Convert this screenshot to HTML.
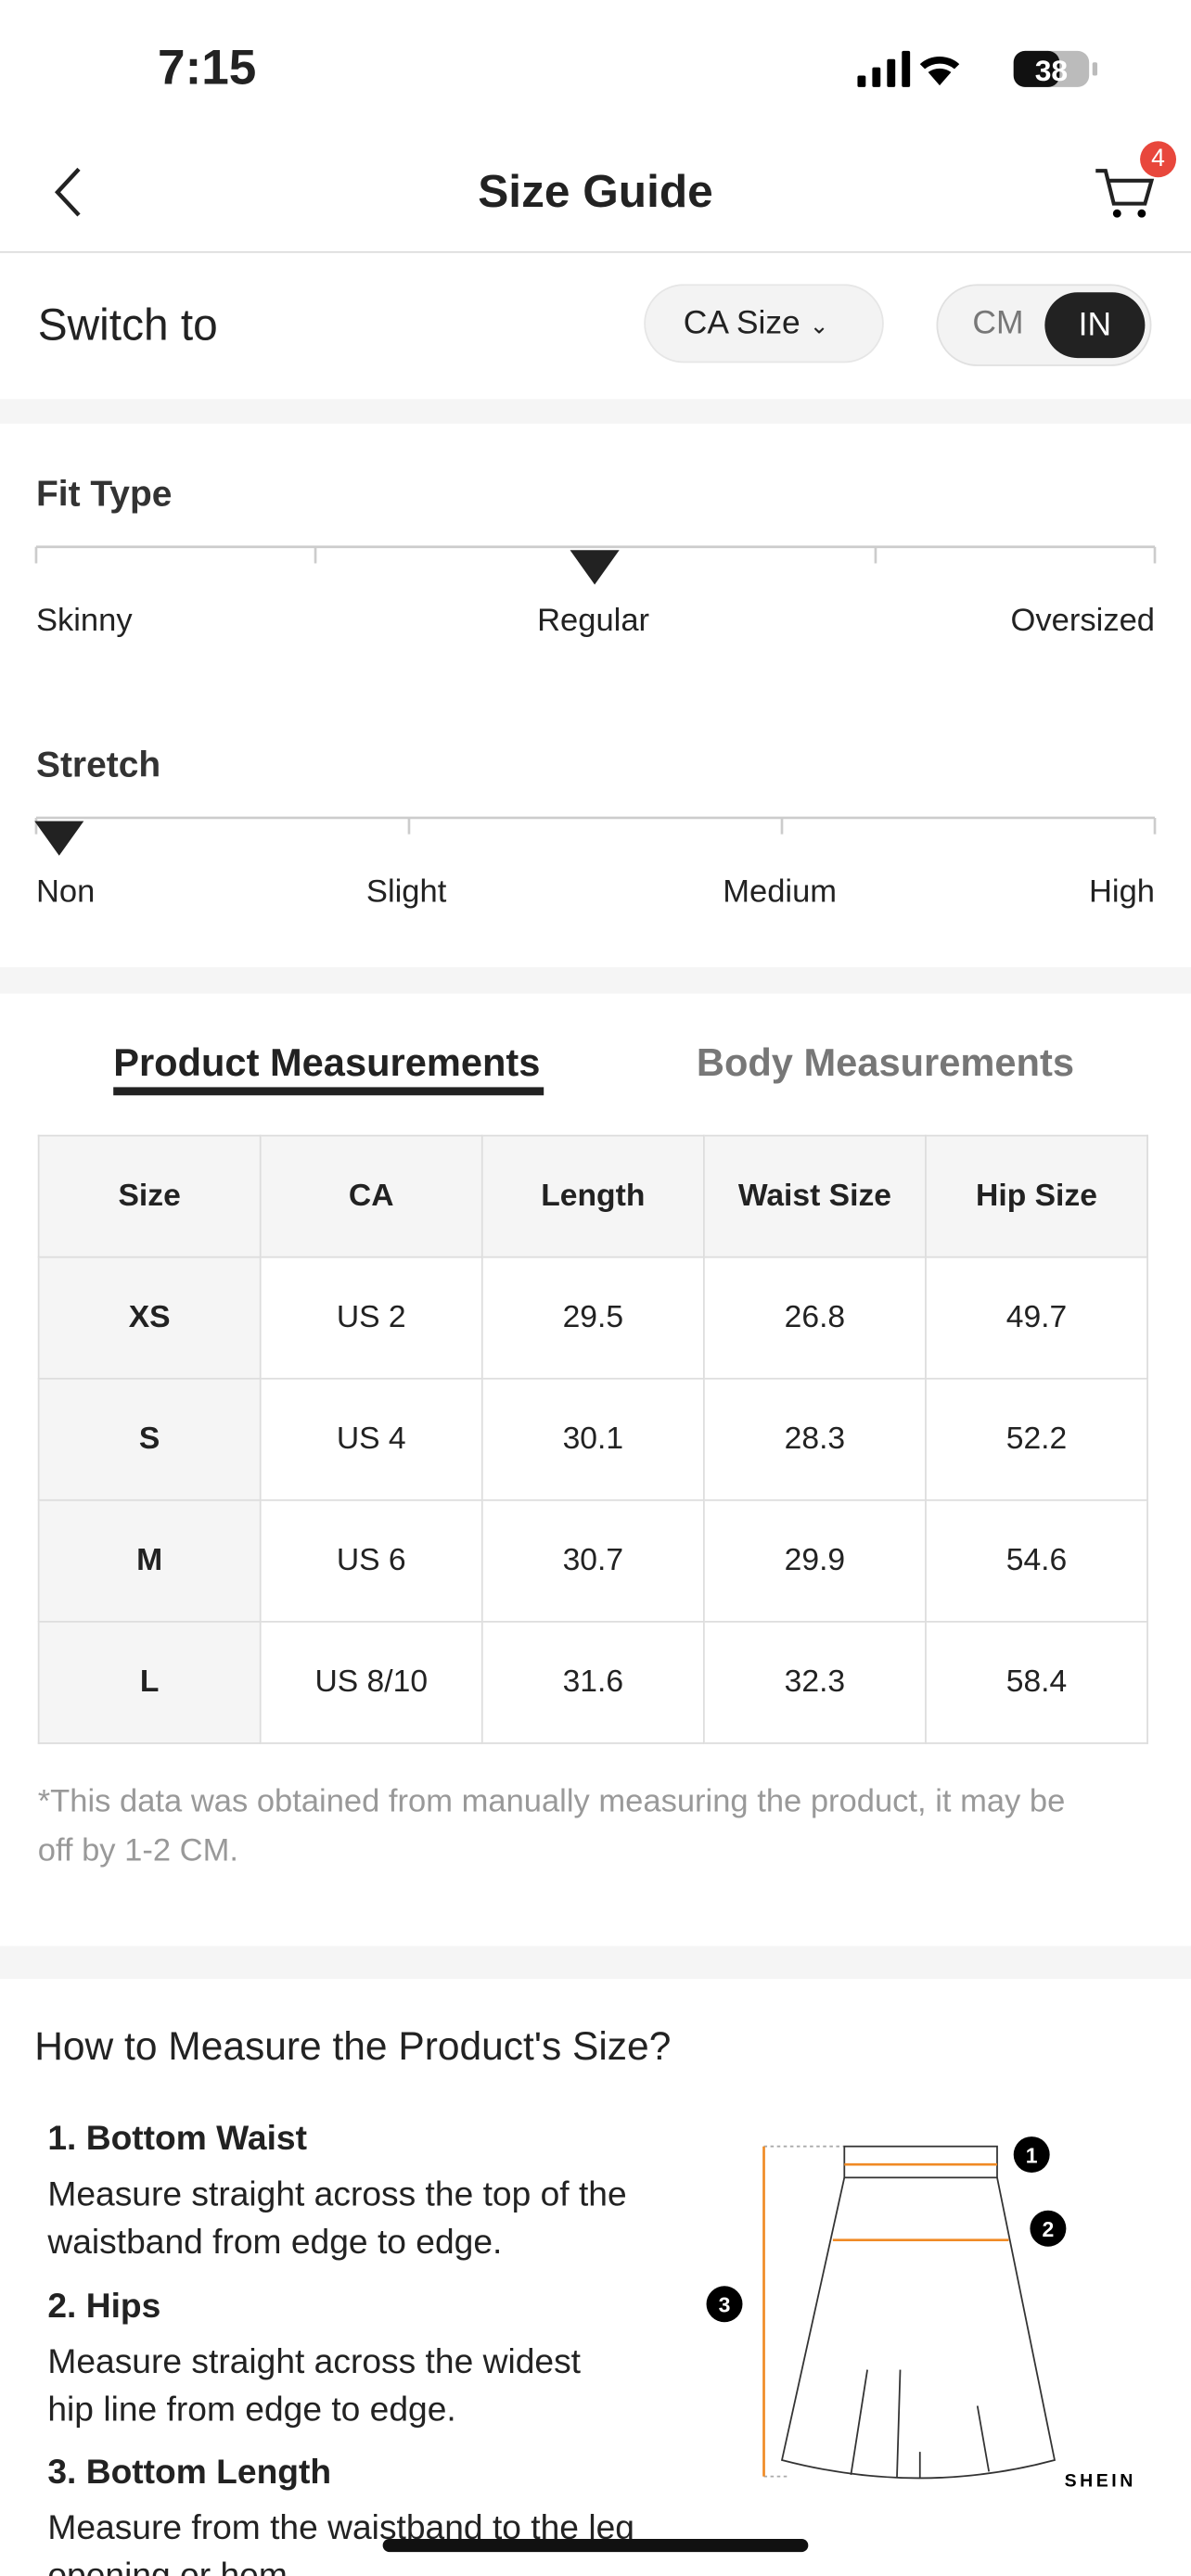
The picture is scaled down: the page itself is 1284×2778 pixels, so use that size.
<!DOCTYPE html>
<html><head><meta charset="utf-8"><style>
html,body{margin:0;padding:0;background:#fff;overflow:hidden}
#w{width:725px;height:1569px;position:relative;transform:scale(1.7710);transform-origin:0 0;font-family:"Liberation Sans",sans-serif;color:#222}
.a{position:absolute;white-space:nowrap}
.band{position:absolute;left:0;width:725px;background:#f5f5f5}
table{position:absolute;left:23px;top:691px;border-collapse:collapse}
td{width:134px;height:73px;border:1.5px solid #ddd;text-align:center;font-size:19px;color:#222;padding:0}
tr:first-child td{background:#f5f5f5;font-weight:bold}
td:first-child{background:#f5f5f5;font-weight:bold}
</style></head><body><div id="w">
<div class="a" style="left:96px;top:25px;font-size:30px;font-weight:bold">7:15</div>
<svg class="a" style="left:520px;top:28px" width="155" height="30">
<rect x="2" y="18" width="5" height="7" rx="1"/><rect x="11" y="13" width="5" height="12" rx="1"/><rect x="20" y="8" width="5" height="17" rx="1"/><rect x="29" y="3" width="5" height="22" rx="1"/>
<path d="M52 24 L45 16 A12 12 0 0 1 59 16Z M40 11 A18 18 0 0 1 64 11 L61 14 A14 14 0 0 0 43 14Z" fill="#000"/>
<rect x="97" y="3" width="46" height="22" rx="7" fill="#bbb"/><rect x="97" y="3" width="28" height="22" rx="7" fill="#111"/><rect x="145" y="10" width="3" height="8" rx="1" fill="#bbb"/>
<text x="120" y="21" font-size="18" font-weight="bold" fill="#fff" text-anchor="middle" font-family="Liberation Sans">38</text></svg>
<svg class="a" style="left:28px;top:100px" width="30" height="34"><path d="M20 3 L7 17 L20 31" stroke="#222" stroke-width="2.5" fill="none"/></svg>
<div class="a" style="left:0;width:725px;text-align:center;top:101px;font-size:28px;font-weight:bold">Size Guide</div>
<svg class="a" style="left:664px;top:100px" width="40" height="36"><path d="M3 4 H9 L14 24 H33 L37 10 H11" stroke="#222" stroke-width="2.3" fill="none"/><circle cx="16" cy="30" r="2.5"/><circle cx="31" cy="30" r="2.5"/></svg>
<div class="a" style="left:694px;top:86px;width:22px;height:22px;border-radius:11px;background:#e8473c;color:#fff;font-size:15px;text-align:center;line-height:22px">4</div>
<div class="a" style="left:0;top:153px;width:725px;height:1px;background:#ddd"></div>
<div class="a" style="left:23px;top:183px;font-size:27px">Switch to</div>
<div class="a" style="left:392px;top:173px;width:146px;height:48px;border-radius:24px;background:#f3f3f3;border:1px solid #e6e6e6;box-sizing:border-box;font-size:20px;line-height:46px;padding-left:23px">CA Size <span style="font-size:14px">&#8964;</span></div>
<div class="a" style="left:570px;top:173px;width:131px;height:50px;border-radius:25px;background:#f3f3f3;border:1px solid #e0e0e0;box-sizing:border-box"></div>
<div class="a" style="left:592px;top:186px;font-size:20px;color:#777">CM</div>
<div class="a" style="left:636px;top:178px;width:61px;height:40px;border-radius:20px;background:#222;color:#fff;font-size:20px;text-align:center;line-height:40px">IN</div>
<div class="band" style="top:243px;height:15px"></div>
<div class="a" style="left:22px;top:288px;font-size:22px;font-weight:bold;color:#333">Fit Type</div>
<svg class="a" style="left:0;top:325px" width="725" height="40"><path d="M22 8 H703 M22 8 V18 M192 8 V18 M533 8 V18 M703 8 V18" stroke="#ccc" stroke-width="1.5"/><path d="M347 10 H377 L362 31Z" fill="#222"/></svg>
<div class="a" style="left:22px;top:367px;font-size:19.5px">Skinny</div>
<div class="a" style="left:327px;top:367px;font-size:19.5px">Regular</div>
<div class="a" style="right:22px;top:367px;font-size:19.5px">Oversized</div>
<div class="a" style="left:22px;top:453px;font-size:22px;font-weight:bold;color:#333">Stretch</div>
<svg class="a" style="left:0;top:490px" width="725" height="40"><path d="M22 8 H703 M22 8 V18 M249 8 V18 M476 8 V18 M703 8 V18" stroke="#ccc" stroke-width="1.5"/><path d="M21 10 H51 L36 31Z" fill="#222"/></svg>
<div class="a" style="left:22px;top:532px;font-size:19.5px">Non</div>
<div class="a" style="left:223px;top:532px;font-size:19.5px">Slight</div>
<div class="a" style="left:440px;top:532px;font-size:19.5px">Medium</div>
<div class="a" style="right:22px;top:532px;font-size:19.5px">High</div>
<div class="band" style="top:589px;height:16px"></div>
<div class="a" style="left:69px;top:634px;font-size:23.5px;font-weight:bold">Product Measurements</div>
<div class="a" style="left:69px;top:662px;width:262px;height:5px;background:#222"></div>
<div class="a" style="left:424px;top:634px;font-size:23.5px;font-weight:bold;color:#777">Body Measurements</div>
<table>
<tr><td>Size</td><td>CA</td><td>Length</td><td>Waist Size</td><td>Hip Size</td></tr>
<tr><td>XS</td><td>US 2</td><td>29.5</td><td>26.8</td><td>49.7</td></tr>
<tr><td>S</td><td>US 4</td><td>30.1</td><td>28.3</td><td>52.2</td></tr>
<tr><td>M</td><td>US 6</td><td>30.7</td><td>29.9</td><td>54.6</td></tr>
<tr><td>L</td><td>US 8/10</td><td>31.6</td><td>32.3</td><td>58.4</td></tr>
</table>
<div class="a" style="left:23px;top:1082px;font-size:19.5px;color:#999;line-height:30px;white-space:normal;width:650px">*This data was obtained from manually measuring the product, it may be off by 1-2 CM.</div>
<div class="band" style="top:1185px;height:20px"></div>
<div class="a" style="left:21px;top:1233px;font-size:24px">How to Measure the Product's Size?</div>
<div class="a" style="left:29px;top:1291px;font-size:21px;font-weight:bold">1. Bottom Waist</div>
<div class="a" style="left:29px;top:1322px;font-size:21px;line-height:29px">Measure straight across the top of the<br>waistband from edge to edge.</div>
<div class="a" style="left:29px;top:1393px;font-size:21px;font-weight:bold">2. Hips</div>
<div class="a" style="left:29px;top:1424px;font-size:21px;line-height:29px">Measure straight across the widest<br>hip line from edge to edge.</div>
<div class="a" style="left:29px;top:1494px;font-size:21px;font-weight:bold">3. Bottom Length</div>
<div class="a" style="left:29px;top:1525px;font-size:21px;line-height:29px">Measure from the waistband to the leg<br>opening or hem.</div>
<svg class="a" style="left:420px;top:1295px" width="300" height="230">
<path d="M45 12 H94 M45 213 H60" stroke="#aaa" stroke-dasharray="2 2"/>
<path d="M45 12 V213" stroke="#f08a24" stroke-width="1.5"/>
<rect x="94" y="12" width="93" height="19" fill="none" stroke="#333"/>
<path d="M94 23 H187 M87 69 H194" stroke="#f08a24" stroke-width="1.5"/>
<path d="M94 31 L56 203 Q140 225 222 203 L187 31" fill="none" stroke="#333"/>
<path d="M108 148 L98 212 M128 148 L126 214 M175 170 L182 210 M140 198 V214" stroke="#333" fill="none"/>
<circle cx="208" cy="17" r="11"/><text x="208" y="22" fill="#fff" font-size="13" text-anchor="middle" font-weight="bold">1</text>
<circle cx="218" cy="62" r="11"/><text x="218" y="67" fill="#fff" font-size="13" text-anchor="middle" font-weight="bold">2</text>
<circle cx="21" cy="108" r="11"/><text x="21" y="113" fill="#fff" font-size="13" text-anchor="middle" font-weight="bold">3</text>
<text x="228" y="219" font-size="11" font-weight="bold" letter-spacing="2">SHEIN</text>
</svg>
<div class="a" style="left:233px;top:1546px;width:259px;height:8px;border-radius:4px;background:#111"></div>
</div></body></html>
